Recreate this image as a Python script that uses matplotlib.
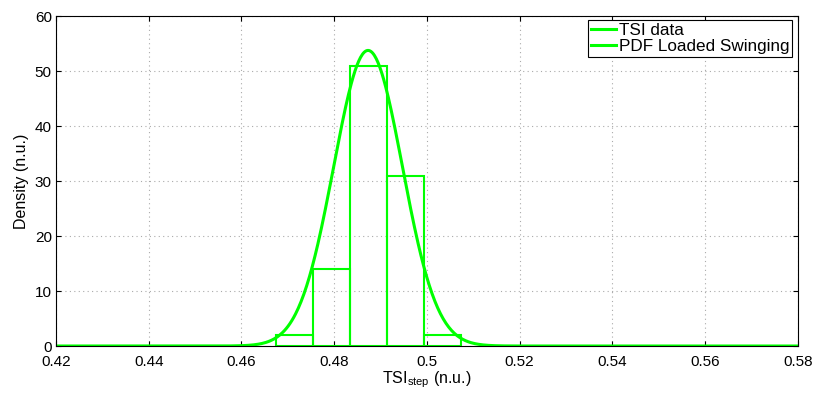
import numpy as np
import matplotlib.pyplot as plt
from matplotlib.lines import Line2D

plt.rcParams['font.family'] = ['Liberation Sans', 'DejaVu Sans']
plt.rcParams['mathtext.fontset'] = 'custom'
plt.rcParams['mathtext.rm'] = 'Liberation Sans'

# Histogram of TSI data (bin edges and densities)
bin_edges = [0.4674, 0.4754, 0.4834, 0.4914, 0.4994, 0.5074]
density = [2, 14, 51, 31, 2]

# Fitted normal PDF parameters
mu = 0.4873
sigma = 0.00742

x_ticks = [0.42, 0.44, 0.46, 0.48, 0.50, 0.52, 0.54, 0.56, 0.58]
x_labels = ['0.42', '0.44', '0.46', '0.48', '0.5', '0.52', '0.54', '0.56', '0.58']
y_ticks = [0, 10, 20, 30, 40, 50, 60]

green = '#00ff00'

fig = plt.figure(figsize=(8.15, 3.94), dpi=100)
ax = fig.add_axes([0.0687, 0.1218, 0.9103, 0.8372])

# histogram drawn as outlined bars
ax.hist(bin_edges[:-1], bins=bin_edges, weights=density, histtype='bar',
        facecolor='none', edgecolor=green, linewidth=1.5, label='TSI data')

xs = np.linspace(0.42, 0.58, 800)
pdf = np.exp(-0.5 * ((xs - mu) / sigma) ** 2) / (sigma * np.sqrt(2 * np.pi))
ax.plot(xs, pdf, color=green, linewidth=2.2, label='PDF Loaded Swinging')

ax.set_xlim(0.42, 0.58)
ax.set_ylim(0, 60)
ax.set_xticks(x_ticks)
ax.set_xticklabels(x_labels)
ax.set_yticks(y_ticks)
ax.tick_params(direction='in', top=True, right=True, length=3.6, labelsize=11,
               width=0.8)
ax.tick_params(axis='x', pad=6.5)
ax.tick_params(axis='y', pad=3)
ax.grid(True, linestyle=(0, (1, 3)), color='#aaaaaa', linewidth=0.8)
ax.set_axisbelow(True)
for s in ax.spines.values():
    s.set_linewidth(0.8)

ax.set_xlabel(r'TSI$_{\mathrm{step}}$ (n.u.)', fontsize=11.5, labelpad=0)
ax.set_ylabel('Density (n.u.)', fontsize=11.5, labelpad=4)

# legend with line handles
handles = [Line2D([], [], color=green, linewidth=2.2),
           Line2D([], [], color=green, linewidth=2.2)]
leg = ax.legend(handles, ['TSI data', 'PDF Loaded Swinging'], loc='upper right',
                bbox_to_anchor=(0.9919, 0.9879), borderaxespad=0,
                fontsize=12.3, fancybox=False, framealpha=1, edgecolor='black',
                borderpad=0.15, labelspacing=0.1, handlelength=1.5,
                handletextpad=0.15)
leg.get_frame().set_linewidth(0.8)

fig.savefig('out.png', dpi=100)
